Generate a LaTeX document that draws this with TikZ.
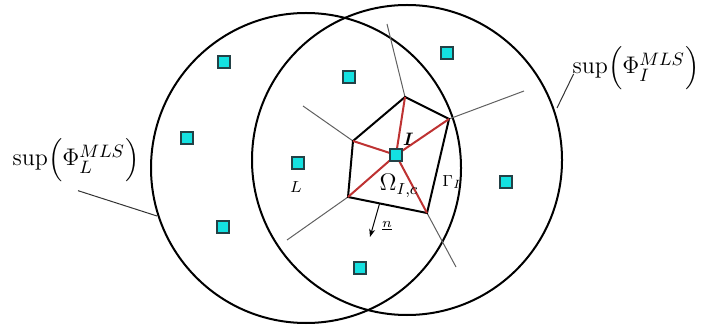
\documentclass[tikz,border=0pt]{standalone}
\usepackage{amsmath}
\usetikzlibrary{calc, positioning}
\usetikzlibrary{arrows.meta}

\definecolor{nodecyan}{RGB}{20,225,225}
\definecolor{nodeedge}{RGB}{35,65,70}
\definecolor{cellred}{RGB}{190,50,50}

\tikzset{
    particle/.style={rectangle, draw=nodeedge, fill=nodecyan, line width=1pt,
        minimum size=6pt, inner sep=0pt},
    support/.style={line width=1pt, black},
    celledge/.style={line width=1pt, black},
    facet/.style={line width=0.5pt, gray!75!black},
    spoke/.style={line width=1pt, cellred},
    leader/.style={line width=0.5pt, gray!40!black},
    suplabel/.style={font=\fontsize{13}{15}\selectfont}
}

\begin{document}
\begin{tikzpicture}[x=0.5pt, y=-0.5pt]
\useasboundingbox (0,0) rectangle (704,325);

% Supports of the two shape functions
\draw[support] (306,168) circle (155);
\draw[support] (407,160) circle (155);

% Voronoi cell of I
\coordinate (cI) at (396,155);
\coordinate (V1) at (405,97);
\coordinate (V2) at (449,119);
\coordinate (V3) at (427,213);
\coordinate (V4) at (348,197);
\coordinate (V5) at (353,141);

\coordinate (E1) at (387,24);
\coordinate (E2) at (524,91);
\coordinate (E3) at (456,267);
\coordinate (E4) at (287,240);
\coordinate (E5) at (303,106);

% Neighbouring facets
\foreach \k in {1,...,5}
    \draw[facet] (V\k) -- (E\k);

\draw[celledge] (V1) -- (V2) -- (V3) -- (V4) -- (V5) -- cycle;

% Sub-triangles of the cell
\foreach \k in {1,...,5}
    \draw[spoke] (cI) -- (V\k);

% Particles
\node[particle] (pI) at (cI) {};
\node[particle] (pL) at (298,163) {};
\node[particle] (p1) at (224,62) {};
\node[particle] (p2) at (349,77) {};
\node[particle] (p3) at (447,53) {};
\node[particle] (p4) at (187,138) {};
\node[particle] (p5) at (506,182) {};
\node[particle] (p6) at (223,227) {};
\node[particle] (p7) at (360,268) {};

% Outward normal
\coordinate (nbase) at ($(V4)!0.4!(V3)$);
\coordinate (ntip) at (370,237);
\draw[line width=0.5pt, -{Stealth[length=4pt, width=3pt]}] (nbase) -- (ntip);
\node[font=\scriptsize] (nlab) at (387,226) {$\underline{n}$};

% Labels
\node[font=\small] (Ilab) at (408,139) {\textbf{\textit{I}}};
\node[font=\footnotesize] (Llab) at (296,187) {$L$};
\node[font=\large] (Omlab) at (399,186) {$\Omega_{I,c}$};
\node[font=\footnotesize, anchor=west, inner sep=1pt] (Gamlab) at (440,182) {$\Gamma_I$};

\node[suplabel] (supL) at (76,160) {$\mathrm{sup}\Bigl(\Phi_L^{MLS}\Bigr)$};
\node[suplabel] (supI) at (636,68) {$\mathrm{sup}\Bigl(\Phi_I^{MLS}\Bigr)$};

\coordinate (tipL) at (157,216);
\coordinate (tipI) at (557,108);
\draw[leader] ($(supL.south)+(2,2)$) -- (tipL);
\draw[leader] ($(supI.base west)+(8,0)$) -- (tipI);
\end{tikzpicture}
\end{document}
